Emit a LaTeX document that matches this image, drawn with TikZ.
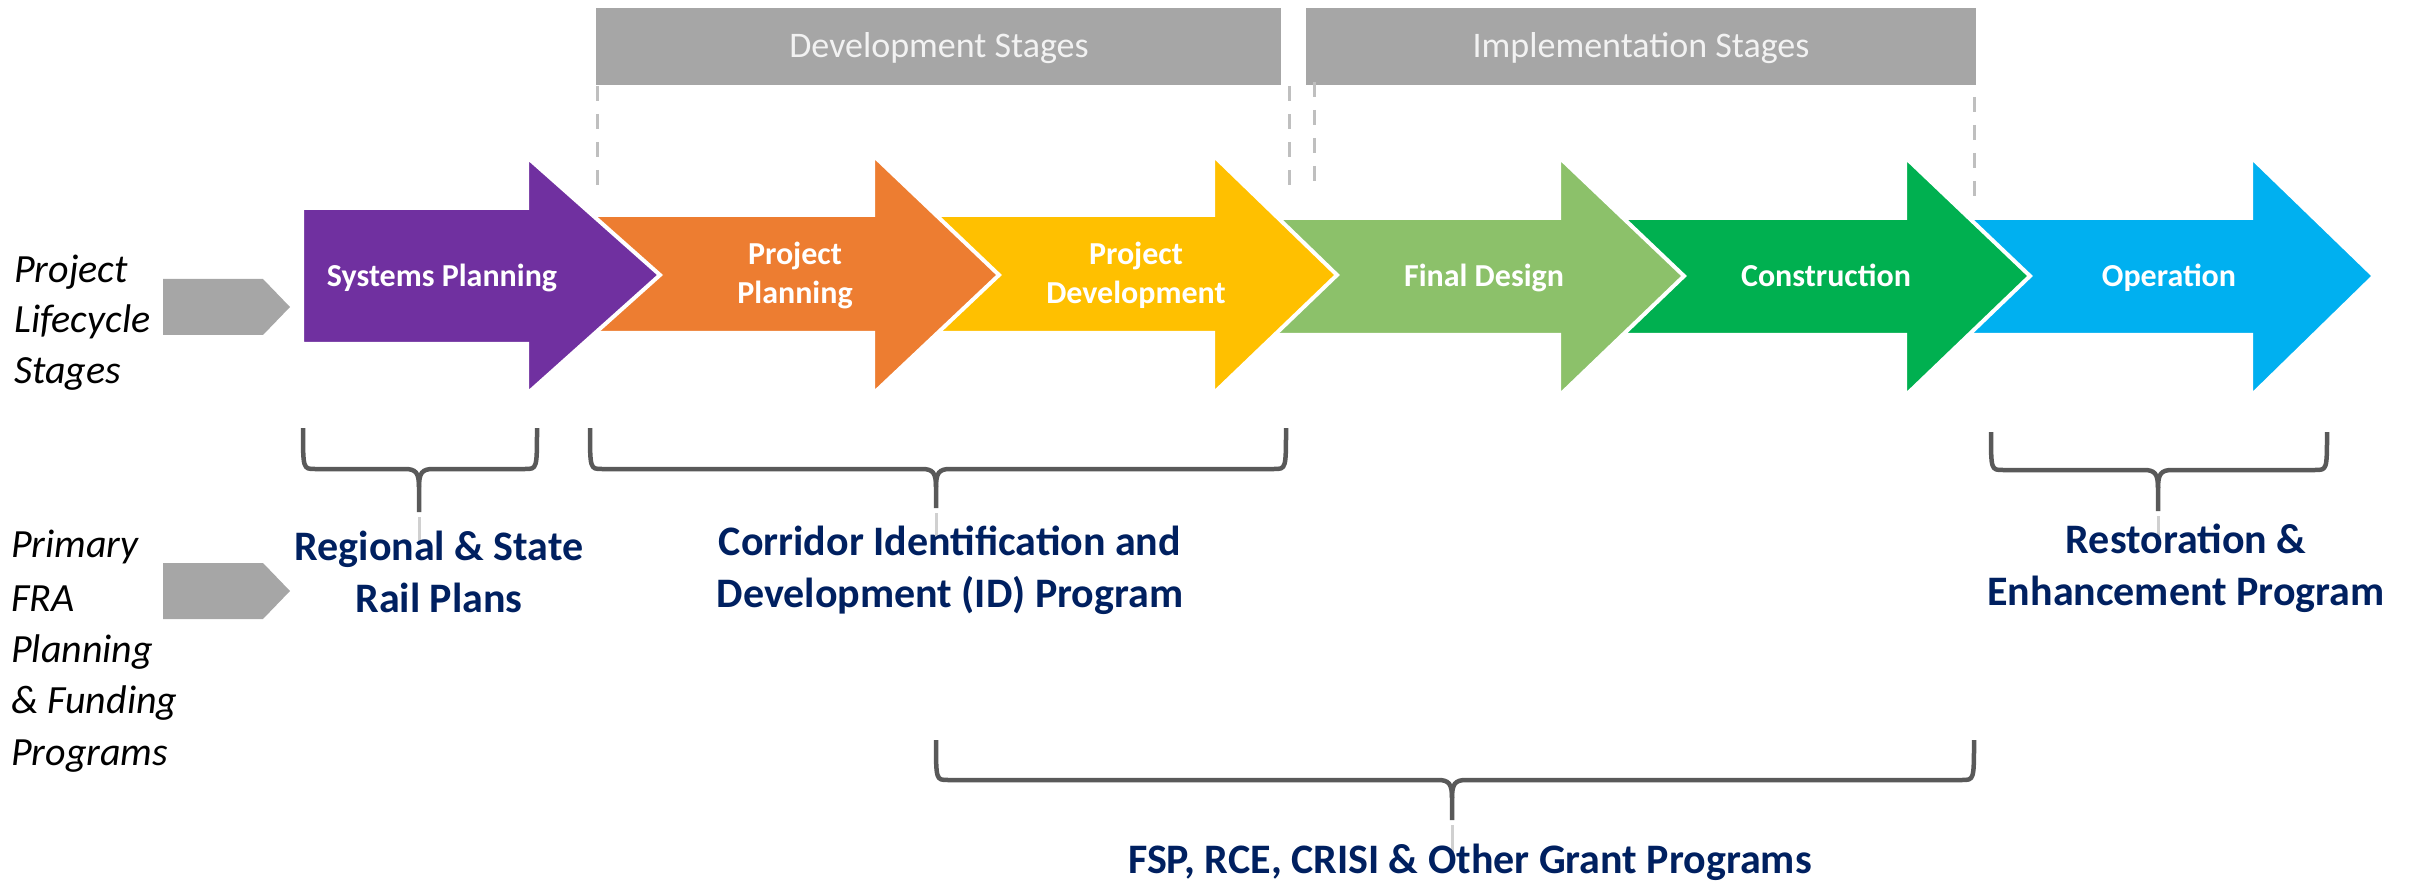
\documentclass[tikz,border=0pt]{standalone}
\usepackage{fontspec}
\setmainfont{Carlito}
\definecolor{cpurple}{HTML}{7030A0}
\definecolor{corange}{HTML}{ED7D31}
\definecolor{cyellow}{HTML}{FFC000}
\definecolor{clgreen}{HTML}{8CC16A}
\definecolor{cdgreen}{HTML}{00B050}
\definecolor{cblue}{HTML}{00B0F0}
\definecolor{cnavy}{HTML}{002060}
\definecolor{cgraybox}{HTML}{A6A6A6}
\definecolor{cbrace}{HTML}{595959}
\definecolor{cdash}{HTML}{BFBFBF}
\definecolor{cfaint}{HTML}{D0D0D0}
\begin{document}
\begin{tikzpicture}[x=1pt,y=-1pt,
  arrowshape/.style={draw=white,line width=4pt,line join=miter},
  arrowlab/.style={text=white,font=\fontsize{32}{39}\selectfont\bfseries,inner sep=0pt,anchor=base},
  toplab/.style={text=white!95!black,font=\fontsize{36}{44}\selectfont,inner sep=0pt,anchor=base},
  sidelab/.style={text=black,font=\fontsize{40}{50}\selectfont\itshape,inner sep=0pt,anchor=base west},
  proglab/.style={text=cnavy,font=\fontsize{42}{52}\selectfont\bfseries,inner sep=0pt,anchor=base},
  bracestyle/.style={draw=cbrace,line width=4.5pt,line cap=butt,line join=round},
  faintline/.style={draw=cfaint,line width=3pt},
  dashline/.style={draw=cdash,line width=3pt,dash pattern=on 15pt off 13pt},
  pointer/.style={fill=cgraybox}
]
\useasboundingbox (0,0) rectangle (2417,882);

% top gray boxes
\node[fill=cgraybox,minimum width=685pt,minimum height=77pt,inner sep=0pt,anchor=north west] (devbox) at (596,8) {};
\node[fill=cgraybox,minimum width=670pt,minimum height=77pt,inner sep=0pt,anchor=north west] (impbox) at (1306,8) {};
\node[toplab] (devlab) at (939,58) {Development Stages};
\node[toplab] (implab) at (1641,58) {Implementation Stages};

% dashed guide lines
\coordinate (d1a) at (597,86);  \coordinate (d1b) at (597,185);
\coordinate (d2a) at (1289,86); \coordinate (d2b) at (1289,185);
\coordinate (d3a) at (1314,82); \coordinate (d3b) at (1314,182);
\coordinate (d4a) at (1974,97); \coordinate (d4b) at (1974,198);
\draw[dashline] (d1a) -- (d1b);
\draw[dashline] (d2a) -- (d2b);
\draw[dashline] (d3a) -- (d3b);
\draw[dashline] (d4a) -- (d4b);

% stage arrows (right to left so left ones lie on top)
\path[arrowshape,fill=cblue]   (1930,218) -- (2251,218) -- (2251,157) -- (2374,276) -- (2251,396) -- (2251,335) -- (1930,335) -- cycle;
\path[arrowshape,fill=cdgreen] (1585,218) -- (1905,218) -- (1905,157) -- (2030,276) -- (1905,396) -- (1905,335) -- (1585,335) -- cycle;
\path[arrowshape,fill=clgreen] (1240,218) -- (1559,218) -- (1559,157) -- (1684,276) -- (1559,396) -- (1559,335) -- (1240,335) -- cycle;
\path[arrowshape,fill=cyellow] (890,215) -- (1213,215) -- (1213,155) -- (1337,275) -- (1213,394) -- (1213,333) -- (890,333) -- cycle;
\path[arrowshape,fill=corange] (560,215) -- (873,215) -- (873,155) -- (999,275) -- (873,394) -- (873,333) -- (560,333) -- cycle;
\path[arrowshape,fill=cpurple] (302,208) -- (527,208) -- (527,157) -- (660,275) -- (527,394) -- (527,344) -- (302,344) -- cycle;

\node[arrowlab] (sysplan) at (442,287) {Systems Planning};
\node[arrowlab] (pp1) at (795,265) {Project};
\node[arrowlab] (pp2) at (795,304) {Planning};
\node[arrowlab] (pd1) at (1136,265) {Project};
\node[arrowlab] (pd2) at (1136,304) {Development};
\node[arrowlab] (fdes) at (1484,287) {Final Design};
\node[arrowlab] (cons) at (1826,287) {Construction};
\node[arrowlab] (oper) at (2169,287) {Operation};

% left side labels and pointers
\node[sidelab] (pls1) at (14,283) {Project};
\node[sidelab] (pls2) at (14,333) {Lifecycle};
\node[sidelab] (pls3) at (14,384) {Stages};
\path[pointer] (163,279) -- (263,279) -- (290,307) -- (263,335) -- (163,335) -- cycle;

\node[sidelab] (fra1) at (11,557) {Primary};
\node[sidelab] (fra2) at (11,611) {FRA};
\node[sidelab] (fra3) at (11,662) {Planning};
\node[sidelab] (fra4) at (11,713) {\& Funding};
\node[sidelab] (fra5) at (11,765) {Programs};
\path[pointer] (163,563) -- (263,563) -- (290,591) -- (263,619) -- (163,619) -- cycle;

% braces
\newcommand{\mybrace}[6]{% left x, right x, top y, horizontal y, center x, bottom y
  \draw[bracestyle] (#1,#3) .. controls (#1,#4) and (#1,#4) .. (#1+12,#4)
    -- (#5-14,#4) .. controls (#5-3,#4) and (#5,#4+4) .. (#5,#4+18) -- (#5,#6);
  \draw[bracestyle] (#2,#3) .. controls (#2,#4) and (#2,#4) .. (#2-12,#4)
    -- (#5+14,#4) .. controls (#5+3,#4) and (#5,#4+4) .. (#5,#4+18);
}
\mybrace{303}{537}{428}{469}{419}{512}
\mybrace{590}{1286}{428}{469}{936}{508}
\mybrace{1991}{2327}{432}{470}{2158}{511}
\mybrace{936}{1974}{740}{780}{1452}{820}

% faint ticks below the brace tips
\coordinate (f1a) at (419,517);  \coordinate (f1b) at (419,545);
\coordinate (f2a) at (936,513);  \coordinate (f2b) at (936,538);
\coordinate (f3a) at (2158,516); \coordinate (f3b) at (2158,540);
\coordinate (f4a) at (1452,825); \coordinate (f4b) at (1452,852);
\draw[faintline] (f1a) -- (f1b);
\draw[faintline] (f2a) -- (f2b);
\draw[faintline] (f3a) -- (f3b);
\draw[faintline] (f4a) -- (f4b);

% program labels
\node[proglab] (rs1) at (439,560) {Regional \& State};
\node[proglab] (rs2) at (439,612) {Rail Plans};
\node[proglab] (cid1) at (950,555) {Corridor Identification and};
\node[proglab] (cid2) at (950,607) {Development (ID) Program};
\node[proglab] (re1) at (2186,553) {Restoration \&};
\node[proglab] (re2) at (2186,605) {Enhancement Program};
\node[proglab] (fsp) at (1470,873) {FSP, RCE, CRISI \& Other Grant Programs};
\end{tikzpicture}
\end{document}
